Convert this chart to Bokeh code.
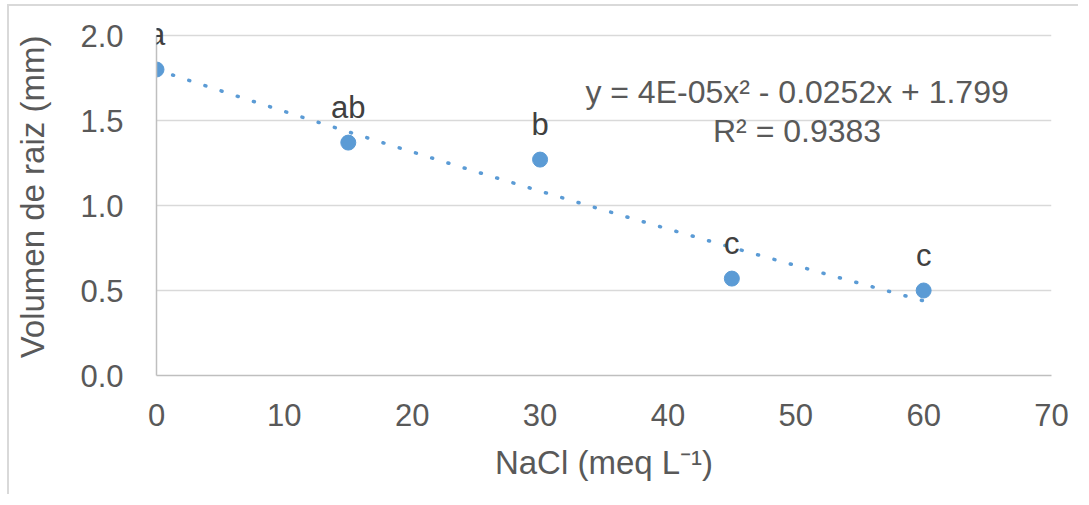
import numpy as np
from bokeh.plotting import figure
from bokeh.models import ColumnDataSource, Range1d, FixedTicker, NumeralTickFormatter, Label, LabelSet
from bokeh.core.properties import value
from bokeh.embed import file_html
from bokeh.resources import INLINE

nacl = [0, 15, 30, 45, 60]
volumen = [1.80, 1.37, 1.27, 0.57, 0.50]
letters = ["a", "ab", "b", "c", "c"]
x_ticks = [0, 10, 20, 30, 40, 50, 60, 70]
y_ticks = [0.0, 0.5, 1.0, 1.5, 2.0]
equation = "y = 4E-05x² - 0.0252x + 1.799"
r2_text = "R² = 0.9383"

FONT = "Liberation Sans"
FS = "31px"
EFS = "32px"
TFS = "33px"

p = figure(width=1071, height=490, output_backend="svg", toolbar_location=None,
           x_range=Range1d(0, 70), y_range=Range1d(0, 2.1),
           min_border_left=147, min_border_right=29, min_border_top=12, min_border_bottom=121)
p.styles = {"border-left": "2px solid #d9d9d9", "border-top": "2px solid #d9d9d9",
            "margin-left": "7px", "margin-top": "4px"}
p.outline_line_color = None
p.background_fill_color = "white"
p.border_fill_color = "white"

p.xgrid.grid_line_color = None
p.ygrid.grid_line_color = "#d9d9d9"
p.ygrid.grid_line_width = 1.5

for ax in (p.xaxis[0], p.yaxis[0]):
    ax.axis_line_color = "#bfbfbf"
    ax.axis_line_width = 1.5
    ax.major_tick_line_color = None
    ax.minor_tick_line_color = None
    ax.major_label_text_font = FONT
    ax.major_label_text_font_size = FS
    ax.major_label_text_color = "#595959"
    ax.axis_label_text_font = FONT
    ax.axis_label_text_font_size = TFS
    ax.axis_label_text_color = "#595959"
    ax.axis_label_text_font_style = "normal"

p.yaxis.bounds = (0, 2.0)
p.xaxis.ticker = FixedTicker(ticks=x_ticks)
p.yaxis.ticker = FixedTicker(ticks=y_ticks)
p.yaxis.formatter = NumeralTickFormatter(format="0.0")
p.xaxis.major_label_standoff = 22
p.yaxis.major_label_standoff = 27
p.xaxis.axis_label = "NaCl (meq L⁻¹)"
p.yaxis.axis_label = "Volumen de raiz (mm)"
p.xaxis.axis_label_standoff = 15
p.yaxis.axis_label_standoff = 26

# polynomial trendline fit from the data
coef = np.polyfit(nacl, volumen, 2)
tx = np.linspace(0, 60, 200)
ty = np.polyval(coef, tx)
p.line(tx, ty, line_color="#5b9bd5", line_width=3.5, line_dash="1 16", line_cap="round")

src = ColumnDataSource(dict(x=nacl, y=volumen, lab=letters))
p.scatter("x", "y", source=src, size=15, fill_color="#5b9bd5", line_color="#5b9bd5")
p.add_layout(LabelSet(x="x", y="y", text="lab", source=src, x_offset=0, y_offset=25,
                      text_align="center", text_baseline="alphabetic",
                      text_font=value(FONT), text_font_size=value(FS), text_color="#404040"))

p.add_layout(Label(x=50.1, y=1.665, text=equation, text_align="center", text_baseline="middle",
                   text_font=FONT, text_font_size=EFS, text_color="#595959"))
p.add_layout(Label(x=50.1, y=1.44, text=r2_text, text_align="center", text_baseline="middle",
                   text_font=FONT, text_font_size=EFS, text_color="#595959"))

open("out.html", "w").write(file_html(p, INLINE))
